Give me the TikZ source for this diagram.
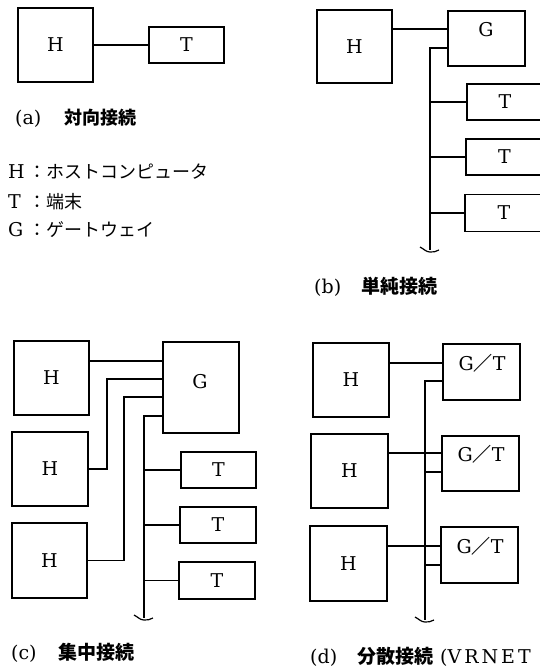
\documentclass[tikz,border=0pt]{standalone}
\usepackage{fontspec}
\setmainfont{DejaVu Serif}
\newfontfamily\jp{Noto Sans CJK JP}
\newcommand{\lat}{\fontsize{19}{22}\selectfont}
\tikzset{
  box/.style={draw, line width=1.3pt, inner sep=0pt, font=\lat},
  ln/.style={line width=1.2pt},
  lbl/.style={inner sep=0pt, font=\lat},
  captxt/.style={inner sep=0pt, anchor=west, font=\lat},
  legtxt/.style={inner sep=0pt, anchor=west, font=\lat},
}
\newcommand{\mytilde}[1]{%
  \begin{scope}[shift={(#1)}]
    \draw[ln] (-10,-3) .. controls (-6,-1) and (-4,2) .. (0,2) .. controls (3,2) and (6,2) .. (9,0);
  \end{scope}}
\begin{document}
\begin{tikzpicture}[x=1pt,y=-1pt]
\useasboundingbox (0,0) rectangle (539,670);

% ---------- (a)
\node[box, minimum width=75pt, minimum height=74pt] (Ha) at (55.5,45) {H};
\node[box, minimum width=75pt, minimum height=36pt] (Ta) at (186.5,45) {T};
\draw[ln] (Ha.east) -- (Ta.west);
\node[captxt] (capa) at (15,118) {\makebox[49pt][l]{(a)}{\jp\bfseries\fontsize{18}{20}\selectfont 対向接続}};

% legend
\node[legtxt] (legH) at (8,172) {\makebox[20pt][l]{H}{\jp\fontsize{18}{20}\selectfont ：ホストコンピュータ}};
\node[legtxt] (legT) at (8,202) {\makebox[20pt][l]{T}{\jp\fontsize{18}{20}\selectfont ：端末}};
\node[legtxt] (legG) at (8,230) {\makebox[20pt][l]{G}{\jp\fontsize{18}{20}\selectfont ：ゲートウェイ}};

% ---------- (b)
\node[box, minimum width=75pt, minimum height=73pt] (Hb) at (354.5,46.5) {H};
\node[box, minimum width=77pt, minimum height=55pt] (Gb) at (486.5,38.5) {};
\node[lbl] (Gbt) at (486,30) {G};
\node[box, minimum width=76pt, minimum height=36pt] (Tb1) at (505,102) {T};
\node[box, minimum width=77pt, minimum height=36pt] (Tb2) at (504.5,157) {T};
\node[box, minimum width=78pt, minimum height=37pt] (Tb3) at (504,213) {T};
\draw[ln] (Hb.east |- 0,29) -- (Gb.west |- 0,29);
\coordinate (bbend) at (430,250);
\draw[ln] (Gb.west |- 0,48) -| (bbend);
\mytilde{bbend}
\draw[ln] (bbend |- Tb1.west) -- (Tb1.west);
\draw[ln] (bbend |- Tb2.west) -- (Tb2.west);
\draw[ln] (bbend |- Tb3.west) -- (Tb3.west);
\node[captxt] (capb) at (314,287) {\makebox[47pt][l]{(b)}{\jp\bfseries\fontsize{19}{20}\selectfont 単純接続}};

% ---------- (c)
\node[box, minimum width=75pt, minimum height=74pt] (Hc1) at (51.5,378) {H};
\node[box, minimum width=76pt, minimum height=74pt] (Hc2) at (50,469) {H};
\node[box, minimum width=75pt, minimum height=75pt] (Hc3) at (49.5,560.5) {H};
\node[box, minimum width=76pt, minimum height=91pt] (Gc) at (201,387.5) {};
\node[lbl] (Gct) at (200,382) {G};
\node[box, minimum width=75pt, minimum height=36pt] (Tc1) at (218.5,470) {T};
\node[box, minimum width=76pt, minimum height=36pt] (Tc2) at (218,525) {T};
\node[box, minimum width=76pt, minimum height=37pt] (Tc3) at (217,580.5) {T};
\draw[ln] (Hc1.east |- 0,361) -- (Gc.west |- 0,361);
\draw[ln] (Hc2.east) -| (107,379) -- (Gc.west |- 0,379);
\draw[ln] (Hc3.east) -| (124,397) -- (Gc.west |- 0,397);
\coordinate (cbend) at (144,618);
\draw[ln] (Gc.west |- 0,416) -| (cbend);
\mytilde{cbend}
\draw[ln] (cbend |- Tc1.west) -- (Tc1.west);
\draw[ln] (cbend |- Tc2.west) -- (Tc2.west);
\draw[ln] (cbend |- Tc3.west) -- (Tc3.west);
\node[captxt] (capc) at (11,653) {\makebox[47pt][l]{(c)}{\jp\bfseries\fontsize{19}{20}\selectfont 集中接続}};

% ---------- (d)
\node[box, minimum width=76pt, minimum height=74pt] (Hd1) at (351,380) {H};
\node[box, minimum width=77pt, minimum height=74pt] (Hd2) at (349.5,471) {H};
\node[box, minimum width=77pt, minimum height=75pt] (Hd3) at (348.5,563.5) {H};
\node[box, minimum width=77pt, minimum height=56pt] (GT1) at (481.5,372) {};
\node[box, minimum width=77pt, minimum height=55pt] (GT2) at (480.5,463.5) {};
\node[box, minimum width=77pt, minimum height=56pt] (GT3) at (479.5,555) {};
\node[lbl] (GT1t) at (482,363) {G{\jp\bfseries ／}T};
\node[lbl] (GT2t) at (481,454) {G{\jp\bfseries ／}T};
\node[lbl] (GT3t) at (480,546) {G{\jp\bfseries ／}T};
\draw[ln] (Hd1.east |- 0,363) -- (GT1.west |- 0,363);
\draw[ln] (Hd2.east |- 0,453) -- (GT2.west |- 0,453);
\draw[ln] (Hd3.east |- 0,546) -- (GT3.west |- 0,546);
\coordinate (dbend) at (425,620);
\draw[ln] (GT1.west |- 0,381) -| (dbend);
\mytilde{dbend}
\draw[ln] (dbend |- 0,472) -- (GT2.west |- 0,472);
\draw[ln] (dbend |- 0,565) -- (GT3.west |- 0,565);
\node[captxt] (capd) at (310,657) {\makebox[47pt][l]{(d)}{\jp\bfseries\fontsize{19}{20}\selectfont 分散接続}\hspace{7pt}(V\hspace{3pt}R\hspace{3pt}N\hspace{3pt}E\hspace{3pt}T};
\end{tikzpicture}
\end{document}
